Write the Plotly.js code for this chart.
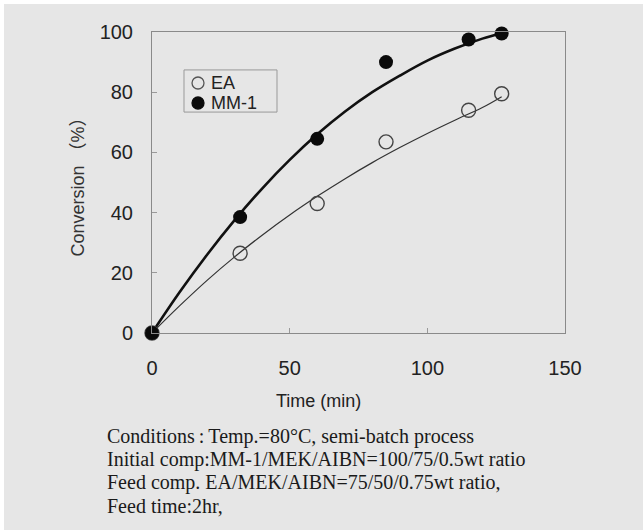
<!DOCTYPE html>
<html>
<head>
<meta charset="utf-8">
<script src="https://cdn.plot.ly/plotly-3.0.1.min.js"></script>
<style>
html,body{margin:0;padding:0;background:#ffffff;}
#chart{position:absolute;left:4px;top:4px;width:639px;height:526px;}
</style>
</head>
<body>
<div id="chart"></div>
<script>
// measured points
const timeMin = [0, 32, 60, 85, 115, 127];
const eaConv = [0, 26.5, 43, 63.5, 74, 79.5];
const mmConv = [0, 38.5, 64.5, 90, 97.5, 99.5];
// fitted curves
const curveTime = [0, 10, 20, 30, 40, 50, 60, 70, 80, 90, 100, 110, 120, 127];
const eaCurve = [0, 9, 17.5, 25.3, 32.5, 39.2, 45.4, 51.2, 56.6, 61.6, 66.3, 70.7, 74.9, 78.5];
const mmCurve = [0, 13.5, 26, 37.5, 48, 57.5, 66, 73.5, 80, 85.5, 90.5, 94.5, 97.8, 99.6];
const xTicks = [0, 50, 100, 150];
const yTicks = [0, 20, 40, 60, 80, 100];
const seriesNames = ['EA', 'MM-1'];
const xTitle = 'Time (min)';
const yTitle = 'Conversion \uFF08%\uFF09';
const noteLines = [
  "Conditions\u2009:\u2009Temp.=80\u00B0C, semi-batch process",
  "Initial comp:MM-1/MEK/AIBN=100/75/0.5wt ratio",
  "Feed comp. EA/MEK/AIBN=75/50/0.75wt ratio,",
  "Feed time:2hr,"
];

const traces = [
  {x: curveTime, y: mmCurve, mode: 'lines', line: {color: '#111', width: 2.6, shape: 'spline'}, showlegend: false, hoverinfo: 'skip'},
  {x: curveTime, y: eaCurve, mode: 'lines', line: {color: '#333', width: 1.2, shape: 'spline'}, showlegend: false, hoverinfo: 'skip'},
  {x: timeMin, y: eaConv, mode: 'markers', name: seriesNames[0], cliponaxis: false, showlegend: false,
   marker: {symbol: 'circle-open', size: 14, color: '#444', line: {width: 1.4, color: '#444'}}},
  {x: timeMin, y: mmConv, mode: 'markers', name: seriesNames[1], cliponaxis: false, showlegend: false,
   marker: {symbol: 'circle', size: 14, color: '#0a0a0a'}}
];

const sans = 'Arial, Liberation Sans, Noto Sans CJK JP, sans-serif';
const axisFont = {family: sans, size: 20, color: '#222'};

const annotations = noteLines.map((t, i) => ({
  text: t, xref: 'paper', yref: 'paper', x: -0.114, y: -0.3455 - i * 0.0764,
  xanchor: 'left', yanchor: 'middle', showarrow: false, align: 'left',
  font: {family: 'Liberation Serif, Times New Roman, serif', size: 20, color: '#1a1a1a'}
}));
// x-axis title (sits left of centre in the original)
annotations.push({
  text: xTitle, xref: 'paper', yref: 'paper', x: 0.402, y: -0.226,
  xanchor: 'center', yanchor: 'middle', showarrow: false,
  font: {family: sans, size: 18, color: '#222'}
});

// legend: box, symbol circles and labels
const shapes = [{
  type: 'rect', xref: 'paper', yref: 'paper', x0: 0.0775, x1: 0.3027, y0: 0.734, y1: 0.874,
  line: {color: '#999', width: 1}, fillcolor: 'rgba(0,0,0,0)'
}];
const legX = 0.1114, legY0 = 0.8306, legStep = 0.0665, rx = 0.0145, ry = 0.0199;
seriesNames.forEach((name, i) => {
  const cy = legY0 - i * legStep;
  shapes.push({
    type: 'circle', xref: 'paper', yref: 'paper',
    x0: legX - rx, x1: legX + rx, y0: cy - ry, y1: cy + ry,
    line: {color: i === 0 ? '#555' : '#0a0a0a', width: 1.3},
    fillcolor: i === 0 ? 'rgba(0,0,0,0)' : '#0a0a0a'
  });
  annotations.push({
    text: name, xref: 'paper', yref: 'paper', x: 0.137, y: cy,
    xanchor: 'left', yanchor: 'middle', showarrow: false,
    font: {family: sans, size: 18, color: '#222'}
  });
});

const layout = {
  width: 639, height: 526,
  paper_bgcolor: '#e6e6e6', plot_bgcolor: '#e6e6e6',
  margin: {l: 148, r: 78, t: 28, b: 197},
  font: {family: sans, color: '#222'},
  showlegend: false,
  xaxis: {
    range: [0, 150], tickvals: xTicks, ticktext: xTicks.map(String),
    showgrid: false, zeroline: false, showline: true, mirror: true,
    linecolor: '#8a8a8a', linewidth: 1, ticks: 'inside', ticklen: 5, tickcolor: '#999',
    tickfont: axisFont, ticklabelstandoff: 17
  },
  yaxis: {
    range: [0, 100], tickvals: yTicks, ticktext: yTicks.map(String),
    showgrid: false, zeroline: false, showline: true, mirror: true,
    linecolor: '#8a8a8a', linewidth: 1, ticks: 'inside', ticklen: 5, tickcolor: '#999',
    tickfont: axisFont, ticklabelstandoff: 14,
    title: {text: yTitle, font: {family: sans, size: 18, color: '#333'}, standoff: 10}
  },
  shapes: shapes,
  annotations: annotations
};

Plotly.newPlot('chart', traces, layout, {displayModeBar: false, staticPlot: true});
</script>
</body>
</html>
